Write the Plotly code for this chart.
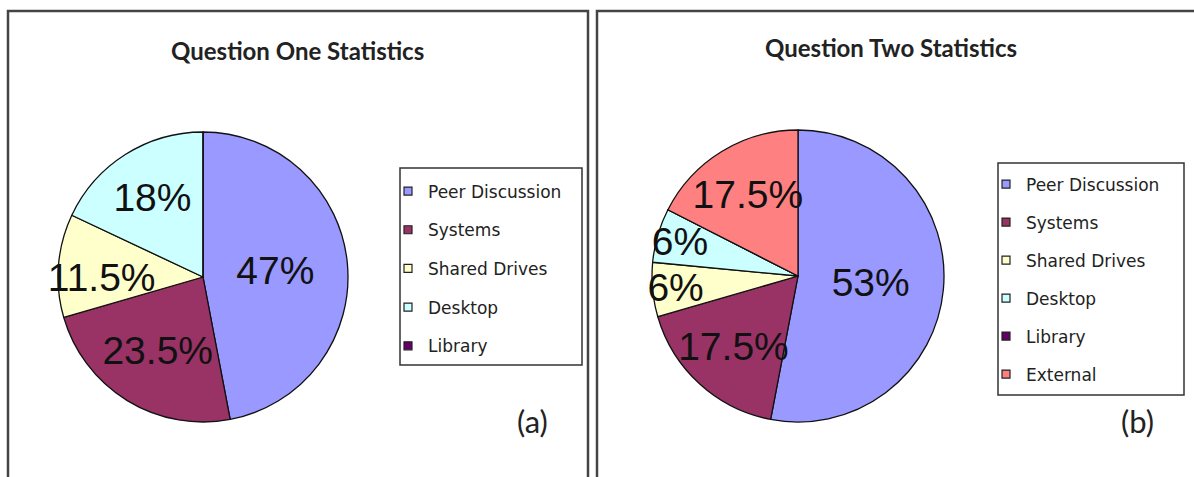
import plotly.graph_objects as go

W, H = 1194, 477

# ---------------- data ----------------
q1_labels = ["Peer Discussion", "Systems", "Shared Drives", "Desktop", "Library"]
q1_values = [47, 23.5, 11.5, 18, 0]
q1_text = ["47%", "23.5%", "11.5%", "18%", ""]

q2_labels = ["Peer Discussion", "Systems", "Shared Drives", "Desktop", "Library", "External"]
q2_values = [53, 17.5, 6, 6, 0, 17.5]
q2_text = ["53%", "17.5%", "6%", "6%", "", "17.5%"]

palette = {
    "Peer Discussion": "#9999FF",
    "Systems": "#993366",
    "Shared Drives": "#FFFFCC",
    "Desktop": "#CCFFFF",
    "Library": "#660066",
    "External": "#FF8080",
}

titles = ["Question One Statistics", "Question Two Statistics"]
panel_tags = ["(a)", "(b)"]


def px(x):
    return x / W


def py(y):
    return 1 - y / H


fig = go.Figure()


def pie_domain(cx, cy, r):
    return dict(x=[px(cx - r), px(cx + r)], y=[py(cy + r), py(cy - r)])


pie_font = dict(family="Liberation Sans, Arial", size=39, color="#111111")

fig.add_trace(go.Pie(
    labels=q1_labels, values=q1_values, text=q1_text, textinfo="text",
    sort=False, direction="clockwise", rotation=0,
    marker=dict(colors=[palette[l] for l in q1_labels], line=dict(color="#111111", width=1.3)),
    textposition="inside", insidetextorientation="horizontal",
    textfont=pie_font,
    domain=pie_domain(203, 277, 145), showlegend=False, hoverinfo="label+percent",
))

fig.add_trace(go.Pie(
    labels=q2_labels, values=q2_values, text=q2_text, textinfo="text",
    sort=False, direction="clockwise", rotation=0,
    marker=dict(colors=[palette[l] for l in q2_labels], line=dict(color="#111111", width=1.3)),
    textposition="inside", insidetextorientation="horizontal",
    textfont=pie_font,
    domain=pie_domain(798, 276, 146), showlegend=False, hoverinfo="label+percent",
))

# legend entries (one per category, per chart)
for lname, labels in (("legend", q1_labels), ("legend2", q2_labels)):
    for lab in labels:
        fig.add_trace(go.Scatter(
            x=[None], y=[None], mode="markers", name=lab,
            legend=lname, legendgroup=lname + lab, showlegend=True,
            marker=dict(symbol="square", size=8, color=palette[lab],
                        line=dict(color="#222222", width=1.2)),
            hoverinfo="skip",
        ))

legend_font = dict(family="DejaVu Sans", size=17, color="#222222")

shapes = [
    # panel borders
    dict(type="rect", xref="paper", yref="paper", x0=px(8), x1=px(588), y0=py(490), y1=py(11),
         line=dict(color="#444444", width=2.5)),
    dict(type="rect", xref="paper", yref="paper", x0=px(597), x1=px(1200), y0=py(490), y1=py(11),
         line=dict(color="#444444", width=2.5)),
    # legend boxes
    dict(type="rect", xref="paper", yref="paper", x0=px(400), x1=px(582), y0=py(365), y1=py(168),
         line=dict(color="#333333", width=1.5)),
    dict(type="rect", xref="paper", yref="paper", x0=px(998), x1=px(1184), y0=py(395), y1=py(163),
         line=dict(color="#333333", width=1.5)),
]

title_font = dict(family="Lato", size=24, color="#222222", weight=700)
tag_font = dict(family="Lato", size=31, color="#222222")

annotations = [
    dict(text=titles[0], x=px(297), y=py(50), xref="paper", yref="paper", showarrow=False,
         xanchor="center", yanchor="middle", font=title_font),
    dict(text=titles[1], x=px(891), y=py(48), xref="paper", yref="paper", showarrow=False,
         xanchor="center", yanchor="middle", font=title_font),
    dict(text=panel_tags[0], x=px(532), y=py(421), xref="paper", yref="paper", showarrow=False,
         xanchor="center", yanchor="middle", font=tag_font),
    dict(text=panel_tags[1], x=px(1137), y=py(421), xref="paper", yref="paper", showarrow=False,
         xanchor="center", yanchor="middle", font=tag_font),
]

fig.update_layout(
    width=W, height=H,
    margin=dict(l=0, r=0, t=0, b=0),
    paper_bgcolor="white", plot_bgcolor="white",
    xaxis=dict(visible=False), yaxis=dict(visible=False),
    uniformtext=dict(minsize=39, mode="show"),
    shapes=shapes, annotations=annotations,
    legend=dict(x=px(388), y=py(173.5), xanchor="left", yanchor="top",
                bgcolor="rgba(0,0,0,0)", borderwidth=0, font=legend_font,
                tracegroupgap=13.6, itemclick=False, itemdoubleclick=False),
    legend2=dict(x=px(986), y=py(166.5), xanchor="left", yanchor="top",
                 bgcolor="rgba(0,0,0,0)", borderwidth=0, font=legend_font,
                 tracegroupgap=12.9, itemclick=False, itemdoubleclick=False),
    showlegend=True,
)

fig.write_html("out.html")
